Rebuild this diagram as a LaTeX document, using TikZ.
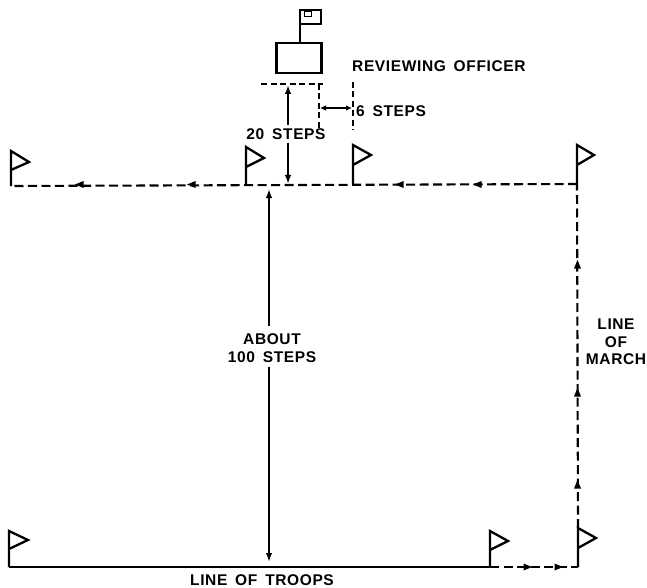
\documentclass[tikz,border=0pt]{standalone}
\usepackage{fontspec}
\setmainfont{Liberation Sans}[LetterSpace=4,WordSpace=1.6]
\usetikzlibrary{arrows.meta}
\tikzset{
  x=1bp,y=-1bp,
  lbl/.style={font=\fontsize{15.5bp}{17.5bp}\selectfont\bfseries,inner sep=0pt,align=center},
  pole/.style={line width=2.3bp,black},
  marchdash/.style={line width=2.1bp,black,dash pattern=on 9bp off 4.5bp},
  guidedash/.style={line width=1.6bp,black,dash pattern=on 6bp off 3.5bp},
  solidline/.style={line width=2.1bp,black},
  bothtips/.style={{Latex[length=6bp,width=5.5bp]}-{Latex[length=6bp,width=5.5bp]},line width=1.6bp,black},
  onetip/.style={-{Latex[length=9bp,width=6.5bp]},line width=1.9bp,black},
}
\newcommand{\marchhead}[3]{\fill[black,shift={(#1,#2)},rotate=#3] (5,0) -- (-3.5,3.5) -- (-3.5,-3.5) -- cycle;}
\begin{document}
\begin{tikzpicture}
\useasboundingbox (0,0) rectangle (647,588);
% flags
\foreach \n/\x/\t/\b/\tx/\ty/\by in {a/11/151/186/29/162/170, b/246/147/184/264/158/167, c/353/145/184/371/155/165, d/577/145/184/594/155/165, e/490/531/567/508/541/550, f/578/528/567/596/538/548, g/9/531/567/28/540/549}{
  \coordinate (\n top) at (\x,\t);
  \coordinate (\n foot) at (\x,\b);
  \coordinate (\n tip) at (\tx,\ty);
  \coordinate (\n back) at (\x,\by);
}
\foreach \n in {a,b,c,d,e,f,g}{
  \draw[pole,line join=miter] (\n foot) -- (\n top) -- (\n tip) -- (\n back);
}
% officer
\node[draw,pole,minimum width=45bp,minimum height=30bp,inner sep=0pt] (box) at (299,58) {};
\coordinate (polebase) at (300,43);
\coordinate (poletop) at (300,10);
\draw[pole] (polebase) -- (poletop) -- (321,10) -- (321,24) -- (300,24);
\draw[line width=1bp] (304,12) rectangle (311,17);
% officer line and guides
\coordinate (ol) at (261,84); \coordinate (or) at (323,84);
\draw[guidedash] (ol) -- (or);
\coordinate (g1) at (319,84); \coordinate (g1e) at (319,130);
\coordinate (g2) at (353,82); \coordinate (g2e) at (353,130);
\draw[guidedash] (g1) -- (g1e);
\draw[guidedash] (g2) -- (g2e);
\coordinate (s6l) at (320,108); \coordinate (s6r) at (352,108);
\draw[bothtips] (s6l) -- (s6r);
% labels
\node[lbl,anchor=west] (rev) at (352,66) {REVIEWING OFFICER};
\node[lbl,anchor=west] (six) at (356,111) {6 STEPS};
\node[lbl] (twenty) at (286,134) {20 STEPS};
\node[lbl] (hundred) at (272,348) {ABOUT\\100 STEPS};
\node[lbl] (march) at (616,342) {LINE\\OF\\MARCH};
\node[lbl] (troops) at (262,580) {LINE OF TROOPS};
% 20 steps arrow
\coordinate (t1) at (288,85); \coordinate (t2) at (288,184);
\draw[onetip] (288,125) -- (t1);
\draw[onetip] (288,143) -- (t2);
% 100 steps arrow
\coordinate (h1) at (269,189); \coordinate (h2) at (269,562);
\draw[onetip] (269,326) -- (h1);
\draw[onetip] (269,367) -- (h2);
% line of march
\draw[marchdash] (dfoot) -- (afoot);
\foreach \x in {80,192,400,478}{\marchhead{\x}{184.5}{180}}
\draw[marchdash] (ftop) -- (dfoot);
\foreach \y in {265,393,485}{\marchhead{577.5}{\y}{90}}
\draw[marchdash] (efoot) -- (ffoot);
\foreach \x in {527,558}{\marchhead{\x}{567}{0}}
\draw[solidline] (gfoot) -- (efoot);
\end{tikzpicture}
\end{document}
